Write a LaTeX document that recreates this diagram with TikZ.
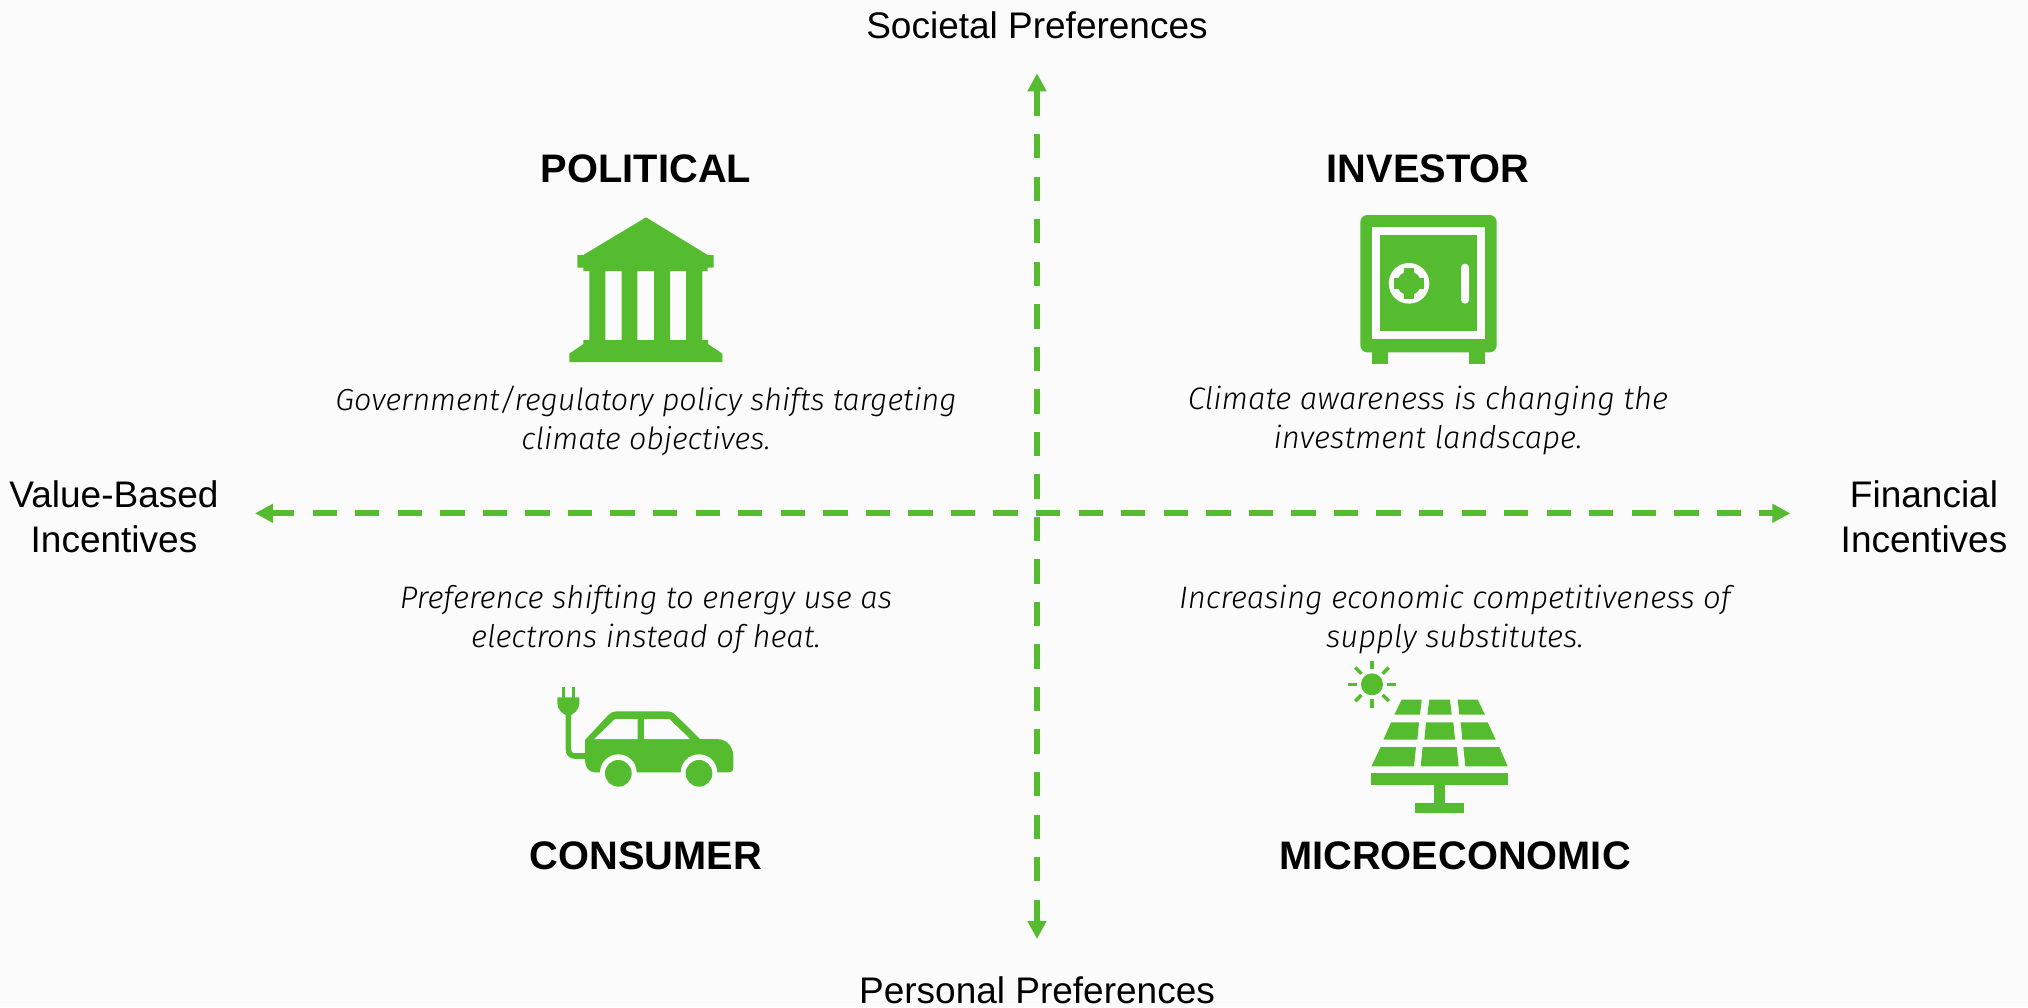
\documentclass[tikz,border=0pt]{standalone}
\usepackage{fontspec}
\usetikzlibrary{arrows.meta,calc}
\setmainfont{Liberation Sans}
\newfontfamily\lightfont[ItalicFont={Fira Sans Light Italic}]{Fira Sans Light}
\definecolor{leaf}{HTML}{55BC2F}
\definecolor{paper}{HTML}{FBFBFB}
\tikzset{
  axis/.style={draw=leaf,line width=6pt,dash pattern=on 24.3pt off 18.25pt,-{Triangle[length=18pt,width=18pt,fill=leaf]}},
  head/.style={font=\fontsize{39.8}{46}\selectfont\bfseries,text=black},
  desc/.style={font=\fontsize{30.5}{39}\selectfont\lightfont\itshape,align=center,text=black},
  descwide/.style={font=\fontsize{31.1}{39}\selectfont\lightfont\itshape,align=center,text=black},
  axlabel/.style={font=\fontsize{37}{45}\selectfont,align=center,text=black},
  icon/.style={x=0.33333pt,y=-0.33333pt},
  ink/.style={fill=leaf,draw=none},
  gap/.style={fill=paper,draw=none}
}
\begin{document}
\begin{tikzpicture}[x=1pt,y=-1pt]
\useasboundingbox (0,0) rectangle (2028,1007);
\fill[paper] (0,0) rectangle (2028,1007);
% labels
\node[axlabel] (soc) at (1037,25) {Societal Preferences};
\node[axlabel] (per) at (1037,990) {Personal Preferences};
\node[axlabel] (val) at (114,516.5) {Value-Based\\Incentives};
\node[axlabel] (fin) at (1924,516.5) {Financial\\Incentives};
\node[head] (pol) at (646,169) {POLITICAL};
\node[head] (inv) at (1428,169) {INVESTOR};
\node[head] (con) at (646,856) {CONSUMER};
\node[head] (mic) at (1455,856) {MICROECONOMIC};
\node[desc] (d1) at (646,420.5) {Government/regulatory policy shifts targeting\\climate objectives.};
\node[descwide] (d2) at (1428,420.5) {Climate awareness is changing the\\investment landscape.};
\node[descwide] (d3) at (646,619) {Preference shifting to energy use as\\electrons instead of heat.};
\node[descwide] (d4) at (1455,619) {Increasing economic competitiveness of\\supply substitutes.};
% axes
\coordinate (upS) at (1037,498.7);
\coordinate (upE) at (1037,73.3);
\coordinate (dnS) at (1037,516.7);
\coordinate (dnE) at (1037,939);
\coordinate (lfS) at (1017.7,513.3);
\coordinate (lfE) at (255,513.3);
\coordinate (rtS) at (1036,513.3);
\coordinate (rtE) at (1790.3,513.3);
\draw[axis] (upS) -- (upE);
\draw[axis] (dnS) -- (dnE);
\draw[axis] (lfS) -- (lfE);
\draw[axis] (rtS) -- (rtE);
% bank
\begin{scope}[shift={(540,200)},icon]
\fill[ink,even odd rule] (318,52) -- (503,165) -- (521,165) -- (521,203) -- (503,203) -- (503,213) -- (487,213) -- (487,420) -- (504,420) -- (504,432) -- (547,461) -- (547,486) -- (88,486) -- (88,461) -- (130,432) -- (130,420) -- (148,420) -- (148,213) -- (130,213) -- (130,203) -- (112,203) -- (112,165) -- (130,165) -- cycle
 (196,213) rectangle (245,420)
 (292,213) rectangle (342,420)
 (390,213) rectangle (438,420);
\end{scope}
% safe
\begin{scope}[shift={(1340,200)},icon]
\fill[ink] (97,450) rectangle (145,492);
\fill[ink] (387,450) rectangle (435,492);
\fill[ink,rounded corners=7pt] (61,45) rectangle (470,457);
\fill[gap] (97,82) rectangle (435,418);
\fill[ink] (121,106) rectangle (412,394);
\fill[gap] (207,250) circle[radius=61];
\fill[ink] (207,250) circle[radius=36];
\fill[ink] (191,204) rectangle (223,296);
\fill[ink] (161,234) rectangle (253,266);
\fill[gap,rounded corners=3.9pt] (363,191) rectangle (387,311);
\end{scope}
% car
\begin{scope}[shift={(540,670)},icon]
\fill[ink] (65,52) rectangle (75,85);
\fill[ink] (95,52) rectangle (105,85);
\fill[ink] (52,82) -- (118,82) -- (118,100) .. controls (118,120) and (100,132) .. (93,135) -- (77,135) .. controls (70,132) and (52,120) .. (52,100) -- cycle;
\draw[leaf,line width=5.6pt] (85,130) -- (85,235) .. controls (85,250) and (92,258) .. (105,258) -- (140,258);
\fill[ink] (135,210) -- (205,135) .. controls (212,127) and (220,124) .. (230,124) -- (380,124) .. controls (392,124) and (400,128) .. (408,136) -- (480,207) -- (530,207) .. controls (560,207) and (580,230) .. (580,260) -- (580,295) .. controls (580,303) and (575,307) .. (567,307) -- (165,307) .. controls (145,307) and (135,290) .. (135,270) -- cycle;
\fill[gap] (163,207) -- (225,147) -- (293,147) -- (293,207) -- cycle;
\fill[gap] (312,147) -- (388,147) -- (450,207) -- (312,207) -- cycle;
\fill[gap] (235,308) circle[radius=55];
\fill[gap] (477,308) circle[radius=55];
\fill[ink] (235,310) circle[radius=40];
\fill[ink] (477,310) circle[radius=40];
\end{scope}
% solar panel
\begin{scope}[shift={(1330,650)},icon]
\fill[ink] (126,103) circle[radius=33];
\foreach \a in {0,45,...,315}{
  \draw[leaf,line width=3.4pt] ($(126,103)+(\a:45)$) -- ($(126,103)+(\a:71)$);
}
\fill[ink] (215,149) -- (275,149) -- (270,194) -- (193,194) -- cycle;
\fill[ink] (298,149) -- (360,149) -- (365,194) -- (292,194) -- cycle;
\fill[ink] (383,149) -- (443,149) -- (465,194) -- (388,194) -- cycle;
\fill[ink] (183,217) -- (267,217) -- (262,269) -- (160,269) -- cycle;
\fill[ink] (288,217) -- (370,217) -- (375,269) -- (283,269) -- cycle;
\fill[ink] (392,217) -- (473,217) -- (497,269) -- (397,269) -- cycle;
\fill[ink] (152,291) -- (258,291) -- (252,349) -- (124,349) -- cycle;
\fill[ink] (278,291) -- (380,291) -- (386,349) -- (272,349) -- cycle;
\fill[ink] (400,291) -- (508,291) -- (533,349) -- (406,349) -- cycle;
\fill[ink] (123,370) rectangle (535,405);
\fill[ink] (313,405) rectangle (345,458);
\fill[ink] (255,458) rectangle (403,490);
\end{scope}
\end{tikzpicture}
\end{document}
